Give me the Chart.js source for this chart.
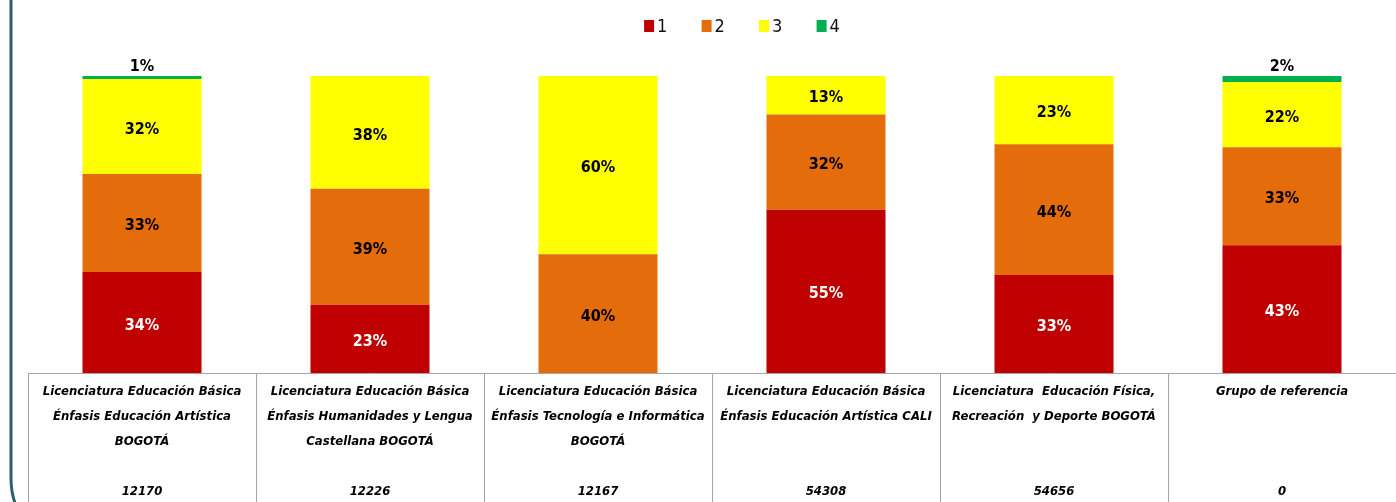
<!DOCTYPE html>
<html>
<head>
<meta charset="utf-8">
<script src="https://cdn.jsdelivr.net/npm/chart.js@4"></script>
<style>
  html, body { margin: 0; padding: 0; background: #fff; overflow: hidden; }
  canvas { display: block; }
</style>
</head>
<body>
<canvas id="chart" width="1396" height="502"></canvas>
<script>
const categories = [
  ['Licenciatura Educación Básica', 'Énfasis Educación Artística', 'BOGOTÁ', '', '12170'],
  ['Licenciatura Educación Básica', 'Énfasis Humanidades y Lengua', 'Castellana BOGOTÁ', '', '12226'],
  ['Licenciatura Educación Básica', 'Énfasis Tecnología e Informática', 'BOGOTÁ', '', '12167'],
  ['Licenciatura Educación Básica', 'Énfasis Educación Artística CALI', '', '', '54308'],
  ['Licenciatura  Educación Física,', 'Recreación  y Deporte BOGOTÁ', '', '', '54656'],
  ['Grupo de referencia', '', '', '', '0']
];
const seriesNames = ['1', '2', '3', '4'];
const level1 = [34, 23, 0, 55, 33, 43];
const level2 = [33, 39, 40, 32, 44, 33];
const level3 = [32, 38, 60, 13, 23, 22];
const level4 = [1, 0, 0, 0, 0, 2];
const colors = ['#C00000', '#E46C0A', '#FFFF00', '#00B050'];
const labelColors = ['#ffffff', '#000000', '#000000', '#000000'];

const labelFont = "'Liberation Sans Narrow', 'DejaVu Sans Condensed', sans-serif";

// teal frame on the left edge
const frame = {
  id: 'frame',
  beforeDraw(chart) {
    const ctx = chart.ctx;
    ctx.save();
    ctx.strokeStyle = '#2d5f6d';
    ctx.lineWidth = 3;
    ctx.beginPath();
    ctx.moveTo(11, -5);
    ctx.lineTo(11, 478);
    ctx.quadraticCurveTo(11, 492, 15, 503);
    ctx.stroke();
    ctx.restore();
  }
};

const valueLabels = {
  id: 'valueLabels',
  afterDatasetsDraw(chart) {
    const ctx = chart.ctx;
    ctx.save();
    ctx.font = 'bold 16px ' + labelFont;
    ctx.textAlign = 'center';
    ctx.textBaseline = 'middle';
    chart.data.datasets.forEach((ds, di) => {
      const meta = chart.getDatasetMeta(di);
      meta.data.forEach((bar, i) => {
        const v = ds.data[i];
        if (!v) return;
        let y = (bar.y + bar.base) / 2 + 3;
        ctx.fillStyle = labelColors[di];
        if (di === 3) { y = bar.y - 9; ctx.fillStyle = '#000'; }
        ctx.fillText(v + '%', bar.x, y);
      });
    });
    ctx.restore();
  }
};

const topLegend = {
  id: 'topLegend',
  afterDraw(chart) {
    const ctx = chart.ctx;
    ctx.save();
    ctx.font = '18px ' + labelFont;
    ctx.textBaseline = 'middle';
    const step = 57.5;
    const total = step * (seriesNames.length - 1) + 10 + 3 + ctx.measureText(seriesNames[3]).width;
    let x = 742 - total / 2;
    seriesNames.forEach((name, i) => {
      ctx.fillStyle = colors[i];
      ctx.fillRect(x, 20, 10, 12);
      ctx.fillStyle = '#111';
      ctx.fillText(name, x + 13, 27);
      x += step;
    });
    ctx.restore();
  }
};

new Chart(document.getElementById('chart'), {
  type: 'bar',
  data: {
    labels: categories,
    datasets: [level1, level2, level3, level4].map((d, i) => ({
      label: seriesNames[i],
      data: d,
      backgroundColor: colors[i],
      borderWidth: 0,
      categoryPercentage: 1,
      barPercentage: 0.522
    }))
  },
  options: {
    responsive: false,
    animation: false,
    layout: { padding: { left: 28, right: 0, top: 76, bottom: 0 } },
    plugins: { legend: { display: false }, tooltip: { enabled: false } },
    scales: {
      x: {
        stacked: true,
        afterFit(scale) { scale.height = 129; },
        grid: {
          offset: true,
          drawOnChartArea: false,
          tickLength: 130,
          color: '#a6a6a6',
          lineWidth: 1
        },
        border: { color: '#a6a6a6', width: 1 },
        ticks: {
          padding: -123.5,
          color: '#000',
          maxRotation: 0,
          autoSkip: false,
          font: { family: labelFont, size: 13, style: 'italic', weight: 'bold', lineHeight: 1.923 }
        }
      },
      y: {
        stacked: true,
        display: false,
        min: 0,
        max: 100
      }
    }
  },
  plugins: [frame, valueLabels, topLegend]
});
</script>
</body>
</html>
